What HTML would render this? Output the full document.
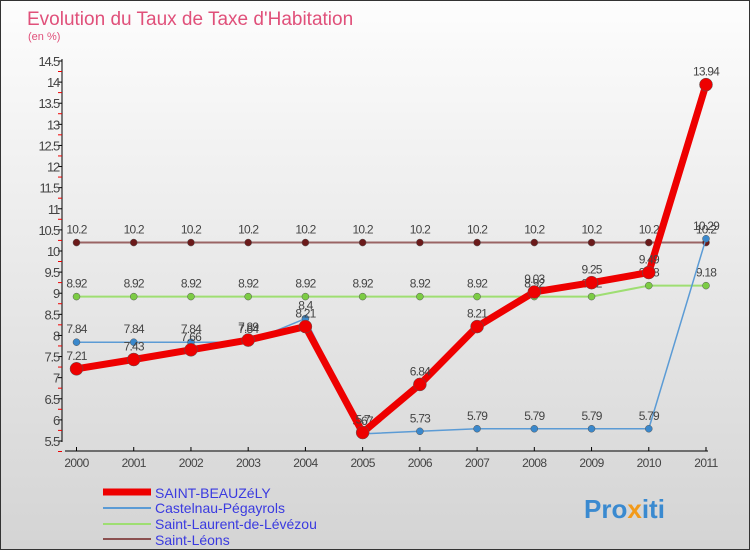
<!DOCTYPE html>
<html><head><meta charset="utf-8"><style>
body{margin:0;}
#wrap{width:748px;height:548px;border:1px solid #333;background:linear-gradient(#fdfdfd,#d4d4d4);position:relative;overflow:hidden;font-family:"Liberation Sans",sans-serif;}
svg text{font-family:"Liberation Sans",sans-serif;}
</style></head><body>
<div id="wrap">
<svg id="chart" width="748" height="548">
<text x="26" y="24" font-size="19" fill="#e0507a">Evolution du Taux de Taxe d'Habitation</text>
<text x="27" y="39" font-size="11" fill="#e0507a">(en %)</text>
<g id="axes"></g><g id="series"></g>
<g>
<line x1="102" y1="491" x2="150" y2="491" stroke="#e00" stroke-width="7"/>
<text x="154" y="497" font-size="14" fill="#3a3ae0">SAINT-BEAUZéLY</text>
<line x1="102" y1="507" x2="150" y2="507" stroke="#5b9bd5" stroke-width="2"/>
<text x="154" y="512" font-size="14" fill="#3a3ae0">Castelnau-Pégayrols</text>
<line x1="102" y1="523" x2="150" y2="523" stroke="#9ede72" stroke-width="2"/>
<text x="154" y="528" font-size="14" fill="#3a3ae0">Saint-Laurent-de-Lévézou</text>
<line x1="102" y1="538" x2="150" y2="538" stroke="#8b5050" stroke-width="2"/>
<text x="154" y="544" font-size="14" fill="#3a3ae0">Saint-Léons</text>
</g>
<text x="583" y="517" font-size="26" font-weight="bold" fill="#3a8ad0">Pro<tspan fill="#f29a1a">x</tspan>iti</text>
</svg>
</div>
<script>
const years=[2000,2001,2002,2003,2004,2005,2006,2007,2008,2009,2010,2011];
const yTicks=[5.5,6,6.5,7,7.5,8,8.5,9,9.5,10,10.5,11,11.5,12,12.5,13,13.5,14,14.5];
const saintBeauzely=[7.21,7.43,7.66,7.89,8.21,5.7,6.84,8.21,9.03,9.25,9.49,13.94];
const castelnau=[7.84,7.84,7.84,7.84,8.4,5.67,5.73,5.79,5.79,5.79,5.79,10.29];
const saintLaurent=[8.92,8.92,8.92,8.92,8.92,8.92,8.92,8.92,8.92,8.92,9.18,9.18];
const saintLeons=[10.2,10.2,10.2,10.2,10.2,10.2,10.2,10.2,10.2,10.2,10.2,10.2];
const NS="http://www.w3.org/2000/svg";
const X=i=>75.5+i*(629.5/11);
const Y=v=>440-(v-5.5)*(380/9);
function mk(tag,attrs,parent){const e=document.createElementNS(NS,tag);for(const k in attrs)e.setAttribute(k,attrs[k]);parent.appendChild(e);return e;}
const axes=document.getElementById('axes'),ser=document.getElementById('series');
let a=mk('line',{x1:61,y1:58,x2:61,y2:441,stroke:'#000'},axes);


a=mk('line',{x1:64,y1:450,x2:707,y2:450,stroke:'#000'},axes);


yTicks.forEach(v=>{
 mk('line',{x1:57,y1:Y(v),x2:61,y2:Y(v),stroke:'#000'},axes);
 mk('line',{x1:57,y1:Y(v)+10.5,x2:61,y2:Y(v)+10.5,stroke:'#e00'},axes);
 const t=mk('text',{x:58,y:Y(v)+5,'font-size':13,'text-anchor':'end',fill:'#444','letter-spacing':'-1.2'},axes);
 t.textContent=v;
 
 
});
years.forEach((y,i)=>{
 mk('line',{x1:X(i),y1:446,x2:X(i),y2:450,stroke:'#000'},axes);
 const t=mk('text',{x:X(i),y:466,'font-size':12,'text-anchor':'middle',fill:'#444','letter-spacing':'-0.6'},axes);
 t.textContent=y;
 
 
});
function draw(data,color,w,r,name,dotStroke){
 const g=mk('g',{},ser);
 
 
 const p=mk('polyline',{points:data.map((v,i)=>X(i)+','+Y(v)).join(' '),fill:'none',stroke:color,'stroke-width':w,'stroke-linejoin':'round'},g);
 
 
 data.forEach((v,i)=>{
  const c=mk('circle',{cx:X(i),cy:Y(v),r:r,fill:dotStroke,stroke:'#555','stroke-width':0.5},g);
  
  
  const t=mk('text',{x:X(i),y:Y(v)-9,'font-size':12,'text-anchor':'middle',fill:'#444','letter-spacing':'-0.8'},g);
  t.textContent=v;
  
  
 });
}
draw(saintLeons,'#9a6464',2,3.5,'saint-leons','#6b1a1a');
draw(saintLaurent,'#9ede72',2,3.5,'saint-laurent','#7ccc44');
draw(castelnau,'#5b9bd5',1.5,3.5,'castelnau','#3a88cc');
draw(saintBeauzely,'#ee0000',7,6.5,'saint-beauzely','#ee0000');
</script>
</body></html>
